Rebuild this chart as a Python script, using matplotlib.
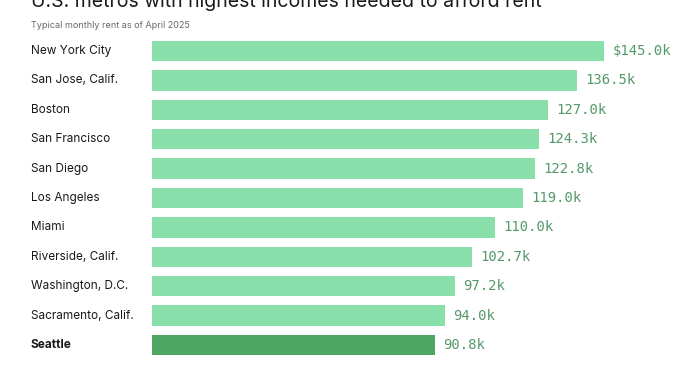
import matplotlib
matplotlib.use('Agg')
import matplotlib.pyplot as plt

# data
metros = ['New York City', 'San Jose, Calif.', 'Boston', 'San Francisco', 'San Diego',
          'Los Angeles', 'Miami', 'Riverside, Calif.', 'Washington, D.C.',
          'Sacramento, Calif.', 'Seattle']
income_k = [145.0, 136.5, 127.0, 124.3, 122.8, 119.0, 110.0, 102.7, 97.2, 94.0, 90.8]
value_labels = ['$145.0k', '136.5k', '127.0k', '124.3k', '122.8k', '119.0k',
                '110.0k', '102.7k', '97.2k', '94.0k', '90.8k']
highlight = 'Seattle'

# colours
light_green = '#88dfaa'
dark_green = '#4da662'
value_color = '#55996a'
text_color = '#1a1a1a'
sub_color = '#666666'

plt.rcParams['font.family'] = ['Inter', 'DejaVu Sans']

W, H = 700, 367
fig = plt.figure(figsize=(W / 100, H / 100), dpi=100)
fig.patch.set_facecolor('white')

# axes placed in pixels: bars start at x=152, rows from y=36 to y=360
left_px, top_px, row_px = 152, 36.3, 29.4
px_per_k = 3.117
n = len(metros)
ax = fig.add_axes([left_px / W, 1 - (top_px + n * row_px) / H,
                   (W - left_px) / W, n * row_px / H])
ax.set_xlim(0, (W - left_px) / px_per_k)
ax.set_ylim(n - 0.5, -0.5)
ax.axis('off')

colors = [dark_green if m == highlight else light_green for m in metros]
ax.barh(range(n), income_k, height=0.69, color=colors)

for i, (v, lab) in enumerate(zip(income_k, value_labels)):
    ax.annotate(lab, (v, i), xytext=(6, 0), textcoords='offset points',
                va='center', ha='left', fontsize=10, color=value_color,
                family='DejaVu Sans Mono')

# metro names on the left
for i, m in enumerate(metros):
    y = 1 - (top_px + (i + 0.5) * row_px) / H
    fig.text(31 / W, y, m, ha='left', va='center', fontsize=8.5, color=text_color,
             fontweight='bold' if m == highlight else 'normal')

# title (cut off at top) and subtitle
fig.text(31 / W, 1 - 7 / H, 'U.S. metros with highest incomes needed to afford rent',
         ha='left', va='baseline', fontsize=14, color=text_color)
fig.text(31 / W, 1 - 25 / H, 'Typical monthly rent as of April 2025',
         ha='left', va='center', fontsize=6.5, color=sub_color)

# footer (mostly below the canvas)
fig.text(31 / W, 1 - 373 / H, 'Note: Income needed so that rent is 30% of earnings; Data: Zillow',
         ha='left', va='center', fontsize=7, color=sub_color)

fig.savefig('out.png', dpi=100)
